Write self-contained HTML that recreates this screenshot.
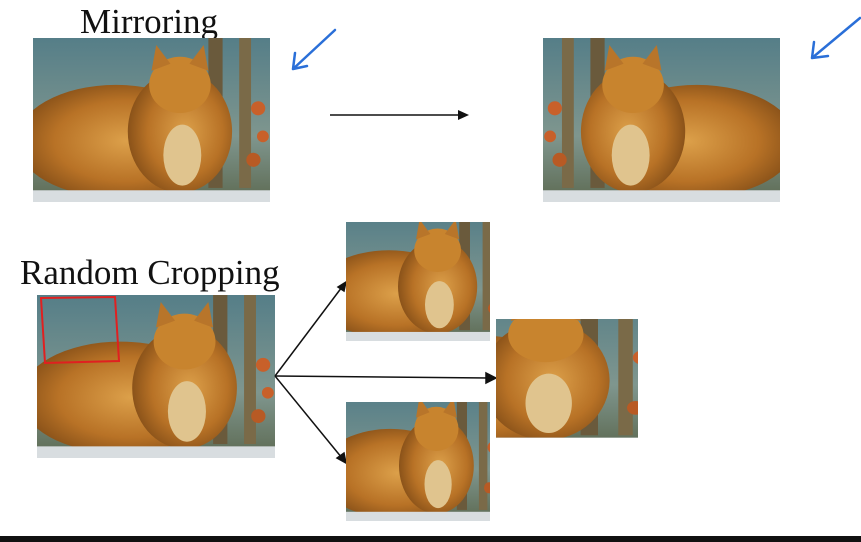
<!DOCTYPE html>
<html><head><meta charset="utf-8"><style>
html,body{margin:0;padding:0;background:#fff;width:861px;height:542px;overflow:hidden;position:relative;font-family:"Liberation Serif",serif}
.t{position:absolute;font-size:35px;color:#111;white-space:nowrap;line-height:1}
svg{position:absolute}
</style></head><body>
<svg width="0" height="0" style="position:absolute">
<defs>
<linearGradient id="bg" x1="0" y1="0" x2="0" y2="1"><stop offset="0" stop-color="#557e88"/><stop offset="0.6" stop-color="#7f968e"/><stop offset="1" stop-color="#5d6a52"/></linearGradient>
<radialGradient id="fur" cx="0.55" cy="0.5" r="0.6"><stop offset="0" stop-color="#dca04a"/><stop offset="0.6" stop-color="#b87226"/><stop offset="1" stop-color="#7e4a16"/></radialGradient>
<symbol id="cat" viewBox="0 0 100 70" preserveAspectRatio="none">
<rect width="100" height="70" fill="url(#bg)"/>
<rect x="74" y="0" width="6" height="64" fill="#6a5a3c"/>
<rect x="87" y="0" width="5" height="64" fill="#7a6a48"/>
<circle cx="95" cy="30" r="3" fill="#c8602a"/><circle cx="97" cy="42" r="2.5" fill="#c8602a"/><circle cx="93" cy="52" r="3" fill="#b85a24"/>
<ellipse cx="35" cy="44" rx="42" ry="24" fill="url(#fur)"/>
<ellipse cx="62" cy="40" rx="22" ry="26" fill="url(#fur)"/>
<ellipse cx="62" cy="20" rx="13" ry="12" fill="#c8842e"/>
<polygon points="50,14 52,3 58,11" fill="#b8752a"/><polygon points="74,14 72,3 66,11" fill="#b8752a"/>
<ellipse cx="63" cy="50" rx="8" ry="13" fill="#e0c48e"/>
<rect x="0" y="65" width="100" height="5" fill="#d8dde0"/>
</symbol>
</defs></svg>

<div class="t" style="left:80px;top:4px">Mirroring</div>
<svg style="left:33px;top:38px" width="237" height="164"><use href="#cat" width="237" height="164"/></svg>
<svg style="left:325px;top:105px" width="150" height="20"><line x1="5" y1="10" x2="135" y2="10" stroke="#111" stroke-width="1.5"/><polygon points="133,5 144,10 133,15" fill="#111"/></svg>
<svg style="left:543px;top:38px" width="237" height="164"><g transform="translate(237,0) scale(-1,1)"><use href="#cat" width="237" height="164"/></g></svg>
<svg style="left:285px;top:25px" width="60" height="50"><path d="M50,5 L8,44 M8,44 L10,28 M8,44 L22,41" stroke="#2a6fd8" stroke-width="2.5" fill="none" stroke-linecap="round"/></svg>
<svg style="left:802px;top:12px" width="59" height="55"><path d="M58,6 L10,46 M10,46 L12,30 M10,46 L26,44" stroke="#2a6fd8" stroke-width="2.5" fill="none" stroke-linecap="round"/></svg>

<div class="t" style="left:20px;top:255px">Random Cropping</div>
<svg style="left:37px;top:295px" width="238" height="163"><use href="#cat" width="238" height="163"/><path d="M4,3 L78,2 L82,66 L8,68 Z" stroke="#e02020" stroke-width="2" fill="none"/></svg>
<svg style="left:0;top:0" width="861" height="542">
<g stroke="#111" stroke-width="1.5" fill="#111">
<line x1="275" y1="376" x2="342" y2="287"/><polygon points="346,282 338,287 344,291"/>
<line x1="275" y1="376" x2="489" y2="378"/><polygon points="496,378 486,373 486,383"/>
<line x1="275" y1="376" x2="342" y2="458"/><polygon points="346,463 344,453 337,458"/>
</g></svg>
<svg style="left:346px;top:222px" width="144" height="119"><use href="#cat" x="-20" y="-8" width="180" height="127"/></svg>
<svg style="left:496px;top:319px" width="142" height="119"><use href="#cat" x="-130" y="-30" width="290" height="160"/></svg>
<svg style="left:346px;top:402px" width="144" height="119"><use href="#cat" x="-15" y="-10" width="170" height="129"/></svg>
<div style="position:absolute;left:0;top:536px;width:861px;height:6px;background:#111"></div>
</body></html>
